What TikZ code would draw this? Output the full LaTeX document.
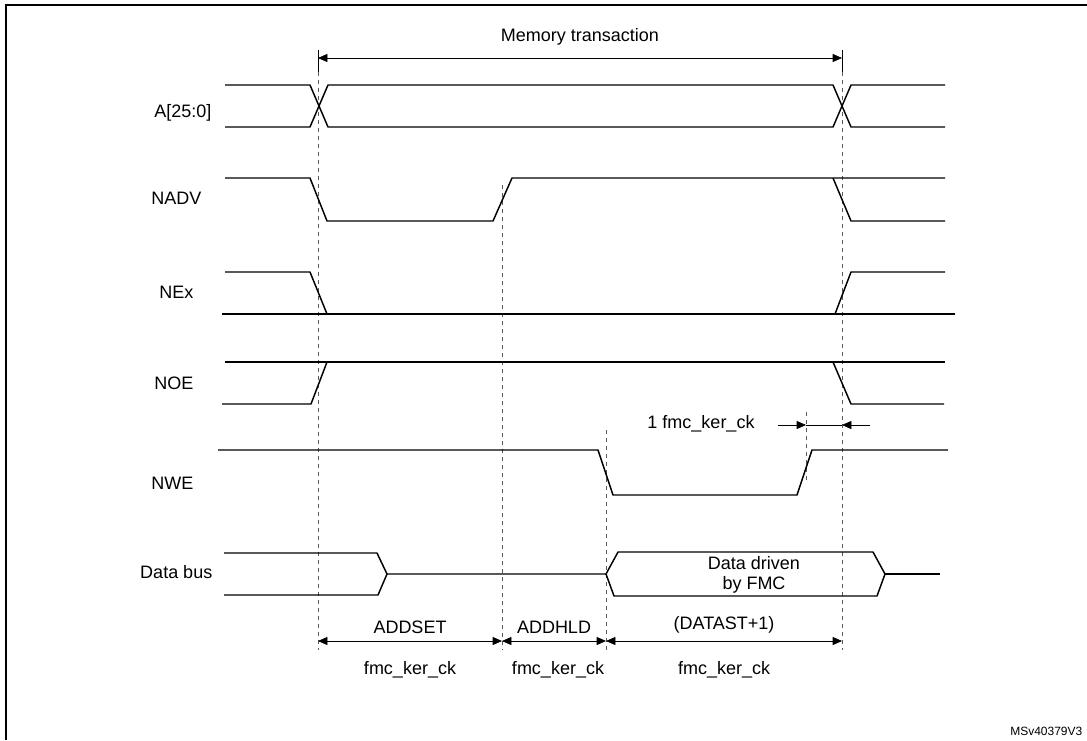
\documentclass[tikz,border=0pt]{standalone}
\usepackage{fontspec}
\setmainfont{Liberation Sans}
\usetikzlibrary{arrows.meta}

\begin{document}
\begin{tikzpicture}[x=0.75pt,y=-0.75pt,font=\fontsize{13.5}{15}\selectfont,
    wave/.style={line width=1.1pt,line join=round},
    mark line/.style={dashed,gray!70!black,line width=0.6pt},
    span/.style={{Triangle[length=7pt,width=6pt]}-{Triangle[length=7pt,width=6pt]},line width=0.5pt},
    sig/.style={anchor=east}]
  \useasboundingbox (0,0) rectangle (1087,740);
  \draw[line width=1.2pt] (6,740) -- (6,5) -- (1087,5);

  % time marks
  \draw[line width=0.5pt] (318,50) -- (318,72) (842,50) -- (842,72);
  \draw[mark line] (318,72) -- (318,650);
  \draw[mark line] (842,72) -- (842,650);
  \draw[mark line] (502,185) -- (502,650);
  \draw[mark line] (606,430) -- (606,650);
  \draw[mark line] (806,412) -- (806,480);

  % signal names
  \node[sig] (la) at (216,113) {A[25:0]};
  \node[sig] (lnadv) at (206,198) {NADV};
  \node[sig] (lnex) at (198,292) {NEx};
  \node[sig] (lnoe) at (198,383) {NOE};
  \node[sig] (lnwe) at (198,483) {NWE};
  \node[sig] (ldata) at (217,572) {Data bus};

  % waves
  \draw[wave] (225,85) -- (310,85) -- (328,127) -- (833,127) -- (851,85) -- (945,85);
  \draw[wave] (225,127) -- (310,127) -- (328,85) -- (833,85) -- (851,127) -- (945,127);
  \draw[wave] (225,178) -- (310,178) -- (327,221) -- (493,221) -- (512,178) -- (945,178);
  \draw[wave] (833,178) -- (851,221) -- (945,221);
  \draw[wave] (225,272) -- (310,272) -- (327,314);
  \draw[wave] (222,314) -- (955,314);
  \draw[wave] (835,314) -- (851,272) -- (945,272);
  \draw[wave] (225,362) -- (945,362);
  \draw[wave] (222,404) -- (311,404) -- (327,362);
  \draw[wave] (833,362) -- (851,404) -- (944,404);
  \draw[wave] (218,450) -- (598,450) -- (613,495) -- (797,495) -- (812,450) -- (948,450);
  \draw[wave] (224,553) -- (377,553) -- (387,574) -- (378,595) -- (224,595);
  \draw[wave] (387,574) -- (606,574) -- (618,552) -- (873,552) -- (885,574)
    -- (877,596) -- (614,596) -- (606,574);
  \draw[wave] (885,574) -- (940,574);
  \node[align=center,inner sep=0pt] (drv) at (754,575) {Data driven\\by FMC};

  % spans
  \draw[span] (318,58) -- node[above=6pt] (mem) {Memory transaction} (842,58);
  \draw[span] (318,641) -- node[above=2pt] (addset) {ADDSET} (502,641);
  \draw[span] (502,641) -- node[above=2pt] (addhld) {ADDHLD} (606,641);
  \draw[span] (606,641) -- node[above=2pt] (datast) {(DATAST+1)} (842,641);
  \node (ck1) at (410,670) {fmc\_ker\_ck};
  \node (ck2) at (558,670) {fmc\_ker\_ck};
  \node (ck3) at (724,670) {fmc\_ker\_ck};

  \node (one) at (701,424) {1 fmc\_ker\_ck};
  \draw[-{Triangle[length=7pt,width=6pt]},line width=0.5pt] (778,425) -- (806,425);
  \draw[line width=0.5pt] (806,425) -- (842,425);
  \draw[-{Triangle[length=7pt,width=6pt]},line width=0.5pt] (870,425) -- (842,425);

  \node[anchor=south east,font=\fontsize{9}{10}\selectfont] (ref) at (1087,740) {MSv40379V3};
\end{tikzpicture}
\end{document}
